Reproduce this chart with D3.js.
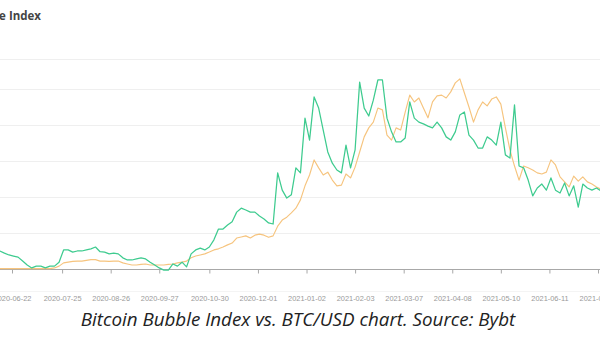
<!DOCTYPE html>
<html>
<head>
<meta charset="utf-8">
<script src="https://cdn.jsdelivr.net/npm/d3@7"></script>
<style>
  html, body { margin: 0; padding: 0; background: #fff; overflow: hidden; }
  svg { display: block; }
</style>
</head>
<body>
<svg id="chart" width="600" height="343"></svg>
<script>
// Series sampled every 3 days, starting 2020-06-14
const seriesStart = "2020-06-14";
const stepDays = 3;

// Bitcoin Bubble Index
const bubbleIndex = [
  5.0, 4.4, 3.9, 3.6, 3.3, 2.2, 1.1, 0.3, 0.8, 0.8,
  0.3, 0.8, 0.8, 1.9, 5.3, 5.3, 4.7, 5.0, 5.0, 5.3,
  5.6, 6.1, 4.8, 4.7, 4.2, 4.4, 4.2, 3.1, 2.5, 2.5,
  2.8, 3.1, 2.8, 1.9, 1.1, 0.3, -0.3, -0.3, 1.4, 0.8,
  1.9, 0.6, 4.2, 5.3, 5.8, 5.3, 6.1, 8.1, 11.1, 11.1,
  12.2, 13.1, 15.8, 16.9, 16.4, 15.8, 15.8, 14.7, 13.9, 12.8,
  12.5, 26.7, 21.9, 19.7, 20.6, 28.1, 26.7, 41.9, 35.8, 47.8,
  44.7, 38.6, 32.5, 29.4, 27.5, 26.7, 34.4, 28.1, 33.1, 51.9,
  44.7, 42.5, 46.9, 52.5, 52.5, 41.9, 38.1, 35.3, 35.3, 36.4,
  46.4, 41.9, 40.8, 40.3, 39.7, 39.2, 40.8, 39.2, 36.7, 35.8,
  38.1, 42.8, 43.6, 37.2, 35.8, 33.6, 33.6, 36.7, 35.8, 34.4,
  40.8, 31.7, 30.8, 45.6, 28.6, 28.1, 24.7, 20.3, 22.5, 23.6,
  21.9, 25.3, 21.9, 21.1, 23.9, 20.3, 23.1, 17.2, 23.6, 22.5,
  21.9, 22.5, 21.7
];

// BTC/USD close
const btcPrice = [
  9100, 9100, 9100, 9100, 9100, 9100, 9100, 9100, 9100, 9100,
  9100, 9100, 9300, 9800, 10700, 10900, 11100, 11200, 11200, 11400,
  11600, 11600, 11200, 11200, 11100, 11200, 11200, 10700, 10400, 10100,
  10100, 10300, 10400, 10100, 10100, 10100, 10100, 10300, 10400, 10700,
  10900, 11200, 12100, 12600, 12900, 13200, 13700, 14300, 14600, 15100,
  15700, 16200, 17600, 17900, 18200, 17600, 18400, 18700, 18400, 17800,
  18200, 20900, 22600, 23400, 24600, 25900, 28200, 32100, 35100, 39300,
  37100, 35100, 35900, 33700, 32100, 32300, 35400, 34300, 37300, 41500,
  45700, 48200, 49800, 53700, 53200, 46200, 44800, 48200, 47600, 52600,
  57300, 55400, 56500, 53700, 51000, 55400, 57100, 57300, 56500, 58200,
  60700, 61800, 57900, 54000, 49800, 53200, 55400, 54300, 56200, 56800,
  54800, 48200, 42100, 37600, 33700, 37600, 37100, 36500, 35700, 35400,
  35900, 39300, 37900, 34600, 33200, 31800, 34800, 33400, 34600, 33200,
  32600, 31800, 31200
];

// Axis tick labels
const tickLabels = [
  "2020-06-22", "2020-07-25", "2020-08-26", "2020-09-27", "2020-10-30",
  "2020-12-01", "2021-01-02", "2021-02-03", "2021-03-07", "2021-04-08",
  "2021-05-10", "2021-06-11", "2021-07-13"
];

const chartTitle = "Bitcoin Bubble Index";
const caption = "Bitcoin Bubble Index vs. BTC/USD chart. Source: Bybt";

const parse = d3.timeParse("%Y-%m-%d");
const fmt = d3.timeFormat("%Y-%m-%d");
const t0 = parse(seriesStart);
const dates = bubbleIndex.map((_, i) => d3.timeDay.offset(t0, i * stepDays));
const tickDates = tickLabels.map(parse);

const svg = d3.select("#chart");
const plotTop = 59, plotBottom = 269;

const x = d3.scaleTime()
  .domain([tickDates[0], tickDates[tickDates.length - 1]])
  .range([12, 598]);

const yIndex = d3.scaleLinear().domain([0, 58.33]).range([plotBottom, plotTop]);
const yPrice = d3.scaleLinear().domain([9000, 67333]).range([plotBottom, plotTop]);

// horizontal grid
const gridVals = yIndex.ticks(6).filter(v => v > 0).concat([yIndex.domain()[1]]);
svg.append("g").selectAll("line").data(gridVals).join("line")
  .attr("x1", 0).attr("x2", 600)
  .attr("y1", d => Math.round(yIndex(d)) + 0.5)
  .attr("y2", d => Math.round(yIndex(d)) + 0.5)
  .attr("stroke", "#efefef").attr("stroke-width", 1);

// faint divider under the axis labels area
svg.append("line")
  .attr("x1", 0).attr("x2", 600).attr("y1", 291.5).attr("y2", 291.5)
  .attr("stroke", "#f4f4f4");

// x axis
const xAxis = d3.axisBottom(x)
  .tickValues(tickDates)
  .tickFormat(fmt)
  .tickSize(4)
  .tickSizeOuter(0)
  .tickPadding(22);

const gx = svg.append("g")
  .attr("transform", `translate(0,${plotBottom + 0.5})`)
  .call(xAxis);
gx.select(".domain").attr("stroke", "#a8a8a8").attr("d", "M0,0H600");
gx.selectAll(".tick line").attr("stroke", "#a8a8a8");
gx.selectAll(".tick text")
  .attr("fill", "#9a9a9a")
  .style("font-family", "'Liberation Sans', Arial, sans-serif")
  .style("font-size", "7.4px");

// lines
const priceLine = d3.line()
  .x((d, i) => x(dates[i]))
  .y(d => yPrice(d));
const indexLine = d3.line()
  .x((d, i) => x(dates[i]))
  .y(d => yIndex(d));

svg.append("path")
  .datum(btcPrice)
  .attr("d", priceLine)
  .attr("fill", "none")
  .attr("stroke", "#f6c47e")
  .attr("stroke-width", 1.15)
  .attr("stroke-linejoin", "round");

svg.append("path")
  .datum(bubbleIndex)
  .attr("d", indexLine)
  .attr("fill", "none")
  .attr("stroke", "#3ecb8f")
  .attr("stroke-width", 1.25)
  .attr("stroke-linejoin", "round");

// title (left part runs off the canvas)
svg.append("text")
  .attr("x", 41).attr("y", 20)
  .attr("text-anchor", "end")
  .attr("fill", "#454545")
  .style("font-family", "'Open Sans', 'Liberation Sans', sans-serif")
  .style("font-weight", "700")
  .style("font-size", "11.5px")
  .text(chartTitle);

// caption
svg.append("text")
  .attr("x", 298).attr("y", 325.5)
  .attr("text-anchor", "middle")
  .attr("fill", "#222")
  .style("font-family", "'Open Sans', sans-serif")
  .style("font-style", "italic")
  .style("font-size", "18.8px")
  .text(caption);
</script>
</body>
</html>
